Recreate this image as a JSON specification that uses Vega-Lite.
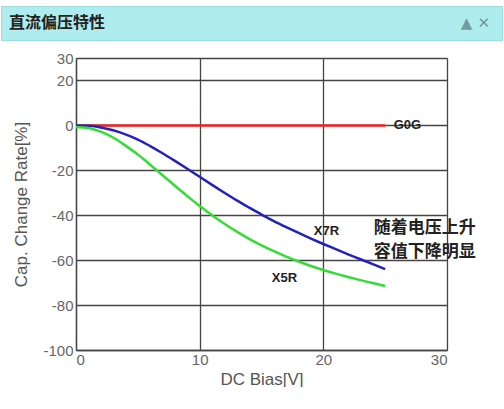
{
  "$schema": "https://vega.github.io/schema/vega-lite/v6.json",
  "background": "white",
  "padding": {"top": 5, "left": 0, "right": 0, "bottom": 0},
  "spacing": 10,
  "config": {
    "font": "Liberation Sans",
    "view": {"stroke": null}
  },
  "vconcat": [
    {
      "width": 501,
      "height": 34,
      "view": {"fill": "#aeecee", "stroke": "#9adcdf"},
      "data": {"values": [
        {"t": "直流偏压特性", "p": 0},
        {"t": "▲  ✕", "p": 1}
      ]},
      "layer": [
        {
          "transform": [{"filter": "datum.p == 0"}],
          "mark": {"type": "text", "baseline": "middle", "align": "left", "dx": 8, "fontWeight": "bold", "fontSize": 16, "font": "Noto Sans CJK SC", "color": "#222"},
          "encoding": {
            "x": {"field": "p", "type": "quantitative", "scale": {"domain": [0, 1]}, "axis": null},
            "text": {"field": "t"}
          }
        },
        {
          "transform": [{"filter": "datum.p == 1"}],
          "mark": {"type": "text", "baseline": "middle", "align": "right", "dx": -12, "fontWeight": "bold", "fontSize": 15, "font": "DejaVu Sans", "color": "#6f9c9c"},
          "encoding": {
            "x": {"field": "p", "type": "quantitative", "scale": {"domain": [0, 1]}, "axis": null},
            "text": {"field": "t"}
          }
        }
      ]
    },
    {
      "spacing": 10,
      "hconcat": [
        {
          "width": 1,
          "height": 292,
          "data": {"values": []},
          "mark": "point"
        },
        {
          "width": 371,
          "height": 292,
          "layer": [
            {
              "data": {"values": [
                {"s": "G0G", "v": 0, "c": 0}, {"s": "G0G", "v": 25, "c": 0},
                {"s": "X7R", "v": 0, "c": 0}, {"s": "X7R", "v": 1, "c": -0.2}, {"s": "X7R", "v": 2, "c": -0.9}, {"s": "X7R", "v": 3, "c": -2.2}, {"s": "X7R", "v": 4, "c": -4}, {"s": "X7R", "v": 5, "c": -6.3}, {"s": "X7R", "v": 6, "c": -9.2}, {"s": "X7R", "v": 7, "c": -12.4}, {"s": "X7R", "v": 8, "c": -15.8}, {"s": "X7R", "v": 9, "c": -19.3}, {"s": "X7R", "v": 10, "c": -22.9}, {"s": "X7R", "v": 11, "c": -26.5}, {"s": "X7R", "v": 12, "c": -30}, {"s": "X7R", "v": 13, "c": -33.4}, {"s": "X7R", "v": 14, "c": -36.6}, {"s": "X7R", "v": 15, "c": -39.7}, {"s": "X7R", "v": 16, "c": -42.6}, {"s": "X7R", "v": 17, "c": -45.3}, {"s": "X7R", "v": 18, "c": -47.9}, {"s": "X7R", "v": 19, "c": -50.4}, {"s": "X7R", "v": 20, "c": -52.8}, {"s": "X7R", "v": 21, "c": -55.1}, {"s": "X7R", "v": 22, "c": -57.4}, {"s": "X7R", "v": 23, "c": -59.6}, {"s": "X7R", "v": 24, "c": -61.8}, {"s": "X7R", "v": 25, "c": -64},
                {"s": "X5R", "v": 0, "c": -0.7}, {"s": "X5R", "v": 1, "c": -1.2}, {"s": "X5R", "v": 2, "c": -2.8}, {"s": "X5R", "v": 3, "c": -5.4}, {"s": "X5R", "v": 4, "c": -9}, {"s": "X5R", "v": 5, "c": -13}, {"s": "X5R", "v": 6, "c": -17.5}, {"s": "X5R", "v": 7, "c": -22.2}, {"s": "X5R", "v": 8, "c": -26.9}, {"s": "X5R", "v": 9, "c": -31.5}, {"s": "X5R", "v": 10, "c": -35.9}, {"s": "X5R", "v": 11, "c": -40}, {"s": "X5R", "v": 12, "c": -43.8}, {"s": "X5R", "v": 13, "c": -47.3}, {"s": "X5R", "v": 14, "c": -50.5}, {"s": "X5R", "v": 15, "c": -53.4}, {"s": "X5R", "v": 16, "c": -56}, {"s": "X5R", "v": 17, "c": -58.4}, {"s": "X5R", "v": 18, "c": -60.6}, {"s": "X5R", "v": 19, "c": -62.6}, {"s": "X5R", "v": 20, "c": -64.4}, {"s": "X5R", "v": 21, "c": -66}, {"s": "X5R", "v": 22, "c": -67.5}, {"s": "X5R", "v": 23, "c": -68.9}, {"s": "X5R", "v": 24, "c": -70.2}, {"s": "X5R", "v": 25, "c": -71.5}
              ]},
              "mark": {"type": "line", "strokeWidth": 2.5, "interpolate": "monotone"},
              "encoding": {
                "x": {
                  "field": "v", "type": "quantitative",
                  "scale": {"domain": [0, 30], "nice": false},
                  "axis": {
                    "title": "DC Bias[V]", "values": [0, 10, 20, 30],
                    "grid": true, "gridColor": "#444", "gridWidth": 1.3, "gridOpacity": 1,
                    "domainColor": "#444", "domainWidth": 1.3, "ticks": false,
                    "labelColor": "#666", "labelFontSize": 15, "labelPadding": 2,
                    "titleColor": "#555", "titleFontSize": 17, "titleFontWeight": "normal", "titlePadding": 4
                  }
                },
                "y": {
                  "field": "c", "type": "quantitative",
                  "scale": {"domain": [-100, 30], "nice": false},
                  "axis": {
                    "title": "Cap. Change Rate[%]", "values": [30, 20, 0, -20, -40, -60, -80, -100],
                    "labelExpr": "replace(datum.label, '−', '-')",
                    "grid": true, "gridColor": "#444", "gridWidth": 1.3, "gridOpacity": 1,
                    "domainColor": "#444", "domainWidth": 1.3, "ticks": false,
                    "labelColor": "#666", "labelFontSize": 15, "labelPadding": 3,
                    "titleColor": "#555", "titleFontSize": 17, "titleFontWeight": "normal", "titlePadding": 12
                  }
                },
                "color": {
                  "field": "s", "type": "nominal", "legend": null,
                  "scale": {"domain": ["G0G", "X7R", "X5R"], "range": ["#ee2222", "#2222bb", "#33dd33"]}
                }
              }
            },
            {
              "data": {"values": [
                {"t": "G0G", "v": 26.8, "c": 0},
                {"t": "X7R", "v": 20.25, "c": -47},
                {"t": "X5R", "v": 16.86, "c": -68}
              ]},
              "mark": {"type": "text", "align": "center", "baseline": "middle", "fontWeight": "bold", "fontSize": 13, "color": "#222"},
              "encoding": {
                "x": {"field": "v", "type": "quantitative"},
                "y": {"field": "c", "type": "quantitative"},
                "text": {"field": "t"}
              }
            },
            {
              "data": {"values": [
                {"t": "随着电压上升", "v": 28.2, "c": -45.5},
                {"t": "容值下降明显", "v": 28.2, "c": -56.5}
              ]},
              "mark": {"type": "text", "align": "center", "baseline": "middle", "fontWeight": "bold", "fontSize": 17, "font": "Noto Sans CJK SC", "color": "#222"},
              "encoding": {
                "x": {"field": "v", "type": "quantitative"},
                "y": {"field": "c", "type": "quantitative"},
                "text": {"field": "t"}
              }
            }
          ]
        }
      ]
    }
  ]
}
